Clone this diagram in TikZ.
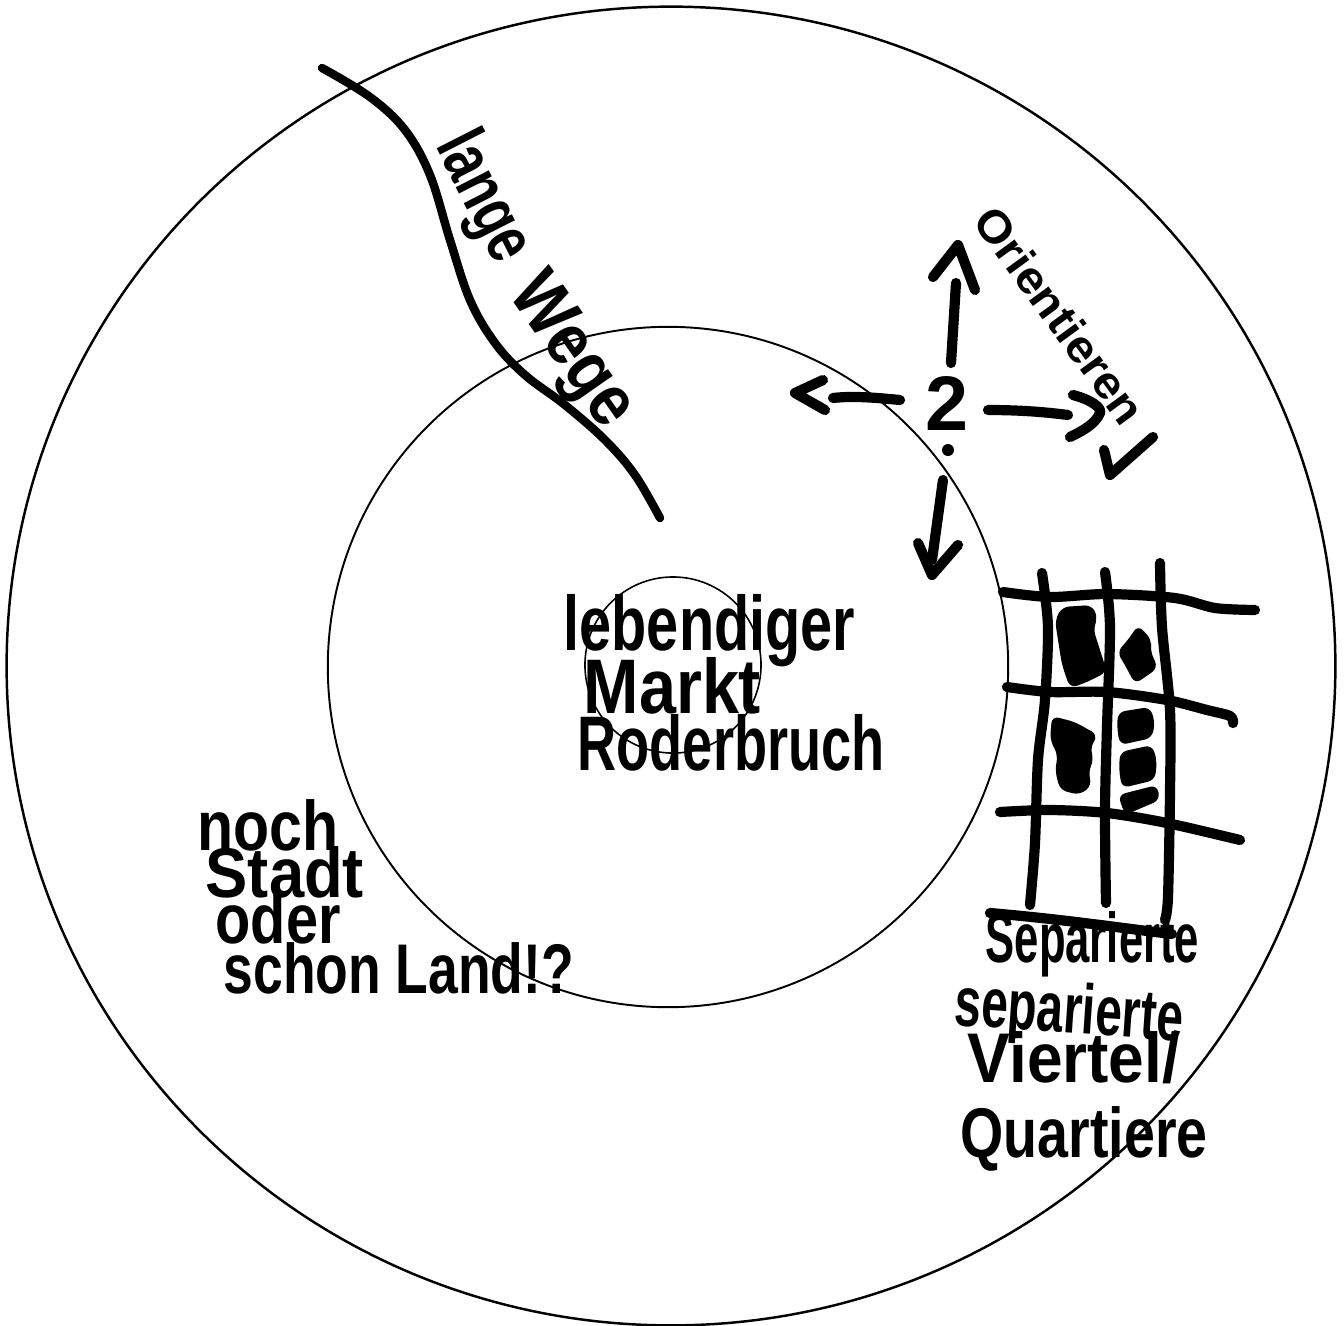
\documentclass[tikz,border=0pt]{standalone}
\usepackage{fontspec}
\usepackage{graphicx}
\setmainfont{Liberation Sans}
\newcommand\hsq[2]{\scalebox{#1}[1]{#2}}
\begin{document}
\begin{tikzpicture}[x=0.01cm,y=-0.01cm,
  hand/.style={font=\bfseries, inner sep=0pt},
  pen/.style={line width=2.4pt, line cap=round, line join=round},
  marker/.style={line width=2.9pt, line cap=round, line join=round},
  ring/.style={line width=0.7pt}]
\useasboundingbox (0,0) rectangle (1344,1326);
% rings
\draw[ring] (671,666) ellipse [x radius=6.64cm, y radius=6.59cm];
\draw[line width=0.55pt] (668,667) circle (3.40cm);
\draw[line width=0.45pt] (673,665) circle (0.88cm);
% lange Wege
\draw[pen] plot[smooth, tension=0.6] coordinates {(322,68) (370,97) (405,130) (430,175) (450,240) (470,300) (495,343) (525,375) (565,405) (605,440) (635,475) (660,518)};
\node[hand, rotate=-63, font=\bfseries\fontsize{20}{22}\selectfont] (lange) at (482,198) {\hsq{0.74}{lange}};
\node[hand, rotate=-55, font=\bfseries\fontsize{21}{23}\selectfont] (wege) at (570,352) {\hsq{0.86}{Wege}};
% Orientieren
\node[hand, rotate=-54, font=\bfseries\fontsize{13}{15}\selectfont] (orient) at (1060,315) {\hsq{1.05}{Orientieren}};
\draw[marker] (1104,450) -- (1110,475) -- (1153,437);
% 2.
\node[hand, font=\bfseries\fontsize{22}{24}\selectfont] (two) at (947,403) {2};
\fill (948,450) circle (0.06cm);
% arrows around 2
\draw[marker] (951,363) -- (956,283);
\draw[marker] (933,277) -- (958,245) -- (975,290);
\draw[marker] (900,400) .. controls (870,397) and (850,396) .. (833,398);
\draw[marker] (823,380) -- (795,393) -- (825,410);
\draw[marker] (988,410) .. controls (1020,410) and (1045,412) .. (1068,415);
\draw[marker] (1073,395) .. controls (1092,400) and (1102,408) .. (1100,413) .. controls (1095,425) and (1080,432) .. (1070,437);
\draw[marker] (943,480) -- (932,560);
\draw[marker] (918,543) -- (932,575) -- (958,545);
% centre text
\node[hand, anchor=base west, font=\bfseries\fontsize{22}{24}\selectfont] (leb) at (563,650) {\hsq{0.745}{lebendiger}};
\node[hand, anchor=base west, font=\bfseries\fontsize{22}{24}\selectfont] (markt) at (583,713) {\hsq{0.86}{Markt}};
\node[hand, anchor=base west, font=\bfseries\fontsize{22}{24}\selectfont] (roder) at (577,770) {\hsq{0.70}{Roderbruch}};
% noch Stadt ...
\node[hand, anchor=base west, font=\bfseries\fontsize{20}{22}\selectfont] (noch) at (197,850) {\hsq{0.84}{noch}};
\node[hand, anchor=base west, font=\bfseries\fontsize{20}{22}\selectfont] (stadt) at (205,897) {\hsq{0.90}{Stadt}};
\node[hand, anchor=base west, font=\bfseries\fontsize{20}{22}\selectfont] (oder) at (215,943) {\hsq{0.82}{oder}};
\node[hand, anchor=base west, font=\bfseries\fontsize{20}{22}\selectfont] (land) at (223,993) {\hsq{0.76}{schon Land!?}};
% grid
\draw[marker] plot[smooth] coordinates {(1003,592) (1050,597) (1107,594) (1175,598) (1215,608) (1255,610)};
\draw[marker] plot[smooth] coordinates {(1007,687) (1050,692) (1107,692) (1167,700) (1207,710) (1230,716) (1233,723)};
\draw[marker] plot[smooth] coordinates {(1000,812) (1050,810) (1107,813) (1167,823) (1240,840)};
\draw[marker] plot[smooth] coordinates {(1042,573) (1048,627) (1045,700) (1038,760) (1035,843) (1030,905)};
\draw[marker] plot[smooth] coordinates {(1105,572) (1110,627) (1107,727) (1105,810) (1106,903)};
\draw[marker] plot[smooth] coordinates {(1160,563) (1162,627) (1170,710) (1170,793) (1168,897) (1165,920)};
% filled blocks
\fill[rounded corners=2pt] (1062,607) -- (1092,605) -- (1098,618) -- (1093,628) -- (1100,650) -- (1107,672) -- (1085,683) -- (1070,688) -- (1062,665) -- (1058,640) -- (1055,620) -- cycle;
\fill[rounded corners=2pt] (1138,625) -- (1152,640) -- (1150,650) -- (1158,668) -- (1135,684) -- (1125,665) -- (1117,652) -- (1128,640) -- cycle;
\fill[rounded corners=2pt] (1052,716) -- (1075,722) -- (1098,735) -- (1090,748) -- (1094,760) -- (1088,772) -- (1092,785) -- (1080,795) -- (1060,790) -- (1055,770) -- (1058,755) -- (1050,740) -- cycle;
\fill[rounded corners=2pt] (1118,712) -- (1150,707) -- (1155,722) -- (1152,738) -- (1120,745) -- (1117,728) -- cycle;
\fill[rounded corners=2pt] (1120,752) -- (1152,745) -- (1157,760) -- (1155,780) -- (1122,788) -- (1119,770) -- cycle;
\fill[rounded corners=2pt] (1118,795) -- (1157,785) -- (1160,800) -- (1125,815) -- cycle;
% separierte Viertel / Quartiere
\draw[marker] (990,913) .. controls (1070,920) and (1120,928) .. (1172,934);
\node[hand, anchor=base west, font=\bfseries\fontsize{20}{24}\selectfont] (sep1) at (985,962) {\hsq{0.62}{Separierte}};
\node[hand, anchor=base west, rotate=-4, font=\bfseries\fontsize{20}{24}\selectfont] (sep2) at (953,1025) {\hsq{0.68}{separierte}};
\node[hand, anchor=base west, font=\bfseries\fontsize{20}{24}\selectfont] (viertel) at (967,1082) {\hsq{0.91}{Viertel/}};
\node[hand, anchor=base west, font=\bfseries\fontsize{20}{24}\selectfont] (quart) at (960,1157) {\hsq{0.79}{Quartiere}};
\end{tikzpicture}
\end{document}
